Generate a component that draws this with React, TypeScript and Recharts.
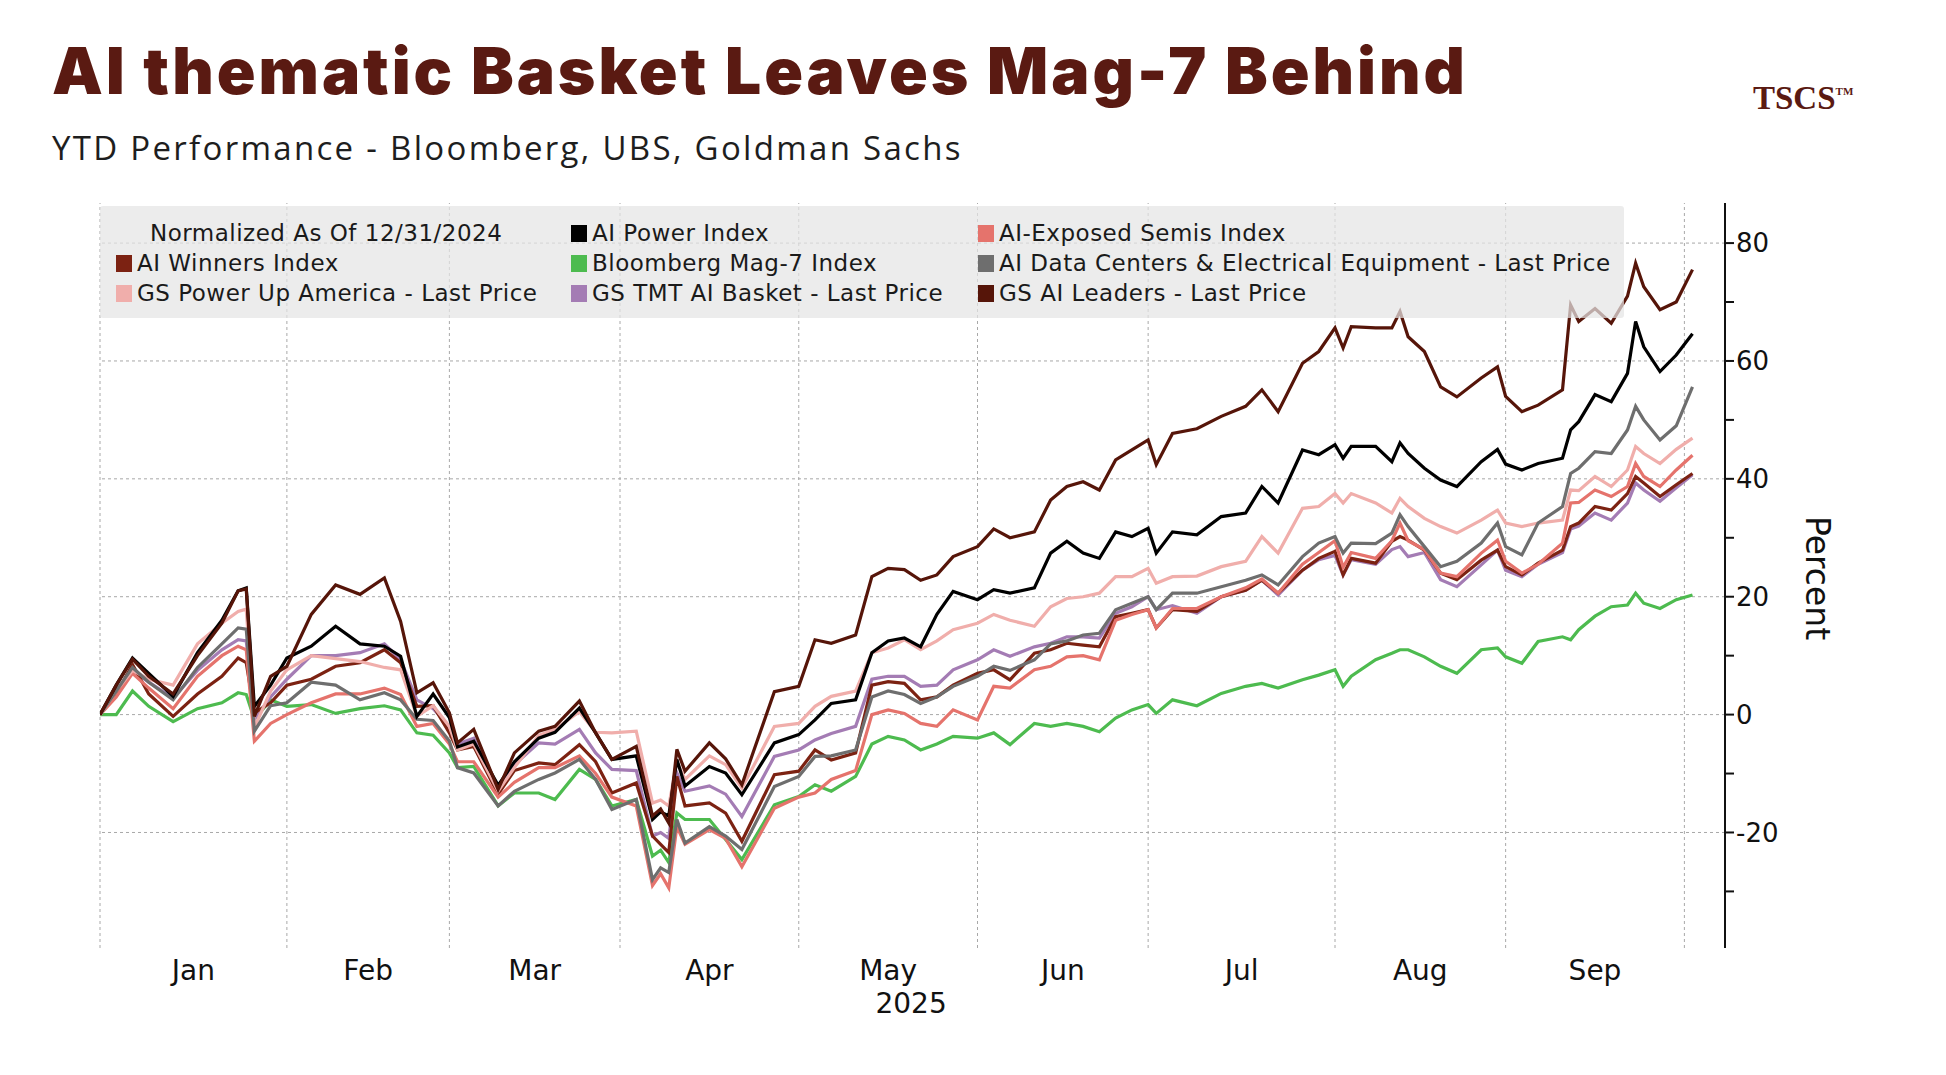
import React from 'react';
import { LineChart, Line, XAxis, YAxis, ReferenceLine } from 'recharts';

// weekday index since 12/31/2024 (Bloomberg weekday axis)
const DAYS = [0, 2, 4, 6, 9, 12, 15, 17, 18, 19, 21, 23,
  26, 29, 32, 35, 37, 39, 41, 43,
  44, 46, 49, 51, 54, 56, 59, 61, 63,
  66, 68, 69, 70, 71, 72, 75, 77, 79, 83,
  86, 88, 90, 93, 95, 97, 99, 101, 103, 105,
  108, 110, 112, 115, 117, 119, 121, 123, 125, 127,
  129, 130, 132, 135, 138, 141, 143, 145, 148, 150,
  152, 153, 154, 157, 159, 160, 161, 163, 165, 167, 170, 172,
  173, 175, 177, 180, 181, 182, 184, 186, 188, 189, 190, 192, 194, 196];

const aiPower = [0, 5, 9.6, 7, 3.1, 10.5, 16, 21, 21.5, 1.4, 5, 9.6,
  11.6, 15, 12, 11.6, 9.9, -0.3, 3.5, -0.5,
  -5.5, -4.5, -12, -8, -4, -3, 1.1, -3.1, -7.6,
  -7, -17.8, -16.5, -17.2, -7.6, -12.1, -8.8, -9.9, -13.6, -4.8,
  -3.4, -0.9, 1.9, 2.5, 10.5, 12.5, 13, 11.5, 17, 20.9,
  19.5, 21.2, 20.6, 21.5, 27.4, 29.4, 27.4, 26.5, 31, 30.2,
  31.6, 27.4, 31, 30.5, 33.6, 34.2, 38.7, 35.9, 44.9, 44.1,
  45.8, 43.5, 45.5, 45.5, 42.9, 46.1, 44.3, 41.8, 39.8, 38.7, 42.9, 45,
  42.5, 41.5, 42.6, 43.5, 48.3, 49.7, 54.3, 53.1, 57.9, 66.7, 62.4, 58.2, 61, 64.6];

const aiSemis = [0, 3, 7, 4.5, 1, 6.5, 10, 11.6, 11, -4.5, -1.5, 0,
  2, 3.5, 3.5, 4.5, 3.4, -2, -1.5, -5,
  -8, -8, -14, -11.5, -9, -9, -7, -10, -14,
  -15.5, -29, -27, -29.4, -19, -22, -19.5, -21, -25.8, -15.9,
  -14, -13.3, -11, -9.5, 0, 0.8, 0.2, -1.5, -2, 0.8,
  -0.9, 4.8, 4.5, 7.6, 8.2, 9.8, 10, 9.3, 16, 17,
  17.8, 14.7, 18, 18, 20, 21.5, 23, 20.6, 25.5, 27.5,
  29.5, 25, 27.5, 26.5, 29.5, 32.5, 29.5, 28, 24, 23.4, 27.4, 29.6,
  26, 24, 25.5, 29.1, 35.9, 36, 38.1, 37, 38.7, 42.6, 40.4, 38.7, 41.5, 44];

const aiWinners = [0, 3.5, 8.5, 3.5, -0.3, 3.5, 6.5, 9.6, 8.8, 0.3, 2, 5,
  6, 8.2, 8.8, 11, 8.8, 1.4, 1.5, -3.1,
  -6, -5.4, -13.5, -9.5, -8.2, -8.5, -5.1, -8, -13.3,
  -11.6, -20.6, -22, -23.4, -10.5, -15.5, -15, -16.7, -21.5, -10.2,
  -9.6, -6, -7.7, -6.5, 5, 5.6, 5.3, 2.5, 3, 5,
  7, 7.6, 5.9, 10.4, 11, 12.1, 11.8, 11.5, 16.6, 17.2,
  17.8, 14.7, 17.8, 17.5, 20, 21.1, 22.8, 20.6, 24.5, 26.5,
  27.7, 23.7, 26.5, 25.7, 29.4, 30.2, 29.6, 27.9, 24, 22.9, 26.2, 27.9,
  25.1, 23.7, 25.7, 27.9, 31.9, 32.5, 35.3, 34.7, 37.5, 40.4, 39.3, 37, 39, 40.9];

const mag7 = [0, 0, 4, 1.4, -1.2, 1, 2, 3.7, 3.4, -0.8, 2.5, 1.4,
  1.7, 0.2, 1, 1.5, 0.8, -3.1, -3.5, -6.5,
  -9, -8.8, -15.5, -13.3, -13.3, -14.4, -9.3, -11, -15.5,
  -14.4, -24, -23, -25.1, -16.7, -17.8, -17.8, -21.2, -24.6, -15.3,
  -13.9, -11.9, -13, -10.5, -5, -3.7, -4.3, -6, -5, -3.7,
  -4, -3.1, -5.1, -1.5, -2, -1.5, -2, -2.9, -0.6, 0.8,
  1.7, 0.2, 2.5, 1.5, 3.6, 4.8, 5.3, 4.5, 5.9, 6.7,
  7.6, 4.8, 6.5, 9.3, 10.4, 11, 11, 9.8, 8.2, 7, 11, 11.3,
  9.8, 8.7, 12.4, 13.2, 12.7, 14.4, 16.7, 18.3, 18.6, 20.6, 18.9, 18, 19.5, 20.3];

const aiDataCenters = [0, 4, 8, 5.5, 2.5, 8, 12, 14.7, 14.5, -2.8, 1.5, 2,
  5.5, 5, 2.5, 3.7, 2.5, -0.8, -1, -4.5,
  -9, -9.9, -15.5, -13, -11, -9.9, -7.6, -11, -16.1,
  -14.4, -28, -26, -26.8, -17.8, -21.8, -19, -20.6, -22.9, -12.2,
  -10.5, -7.1, -7, -6, 3, 4, 3.4, 1.9, 3, 4.8,
  6.5, 8.2, 7.5, 9.3, 12, 12.5, 13.5, 13.8, 17.8, 18.9,
  20, 17.8, 20.6, 20.6, 21.7, 22.8, 23.7, 22, 26.8, 29.1,
  30.2, 27.4, 29.1, 29, 30.8, 33.9, 31.9, 28.5, 25.1, 26, 29.1, 32.5,
  28.5, 27.1, 32.5, 35.3, 40.9, 41.8, 44.6, 44.3, 48.3, 52.3, 50, 46.6, 49, 55.6];

const gsPowerUp = [0, 4, 7.5, 6, 5, 12, 15.5, 17.5, 17.9, -2.2, 4, 7.6,
  10, 9.5, 9, 8, 7.6, -0.3, 1.5, -2,
  -6, -5, -13, -9, -3.5, -2.5, 0.5, -3, -3.1,
  -2.8, -15, -14.5, -15.5, -8, -11, -7, -8.5, -12.5, -2,
  -1.5, 1.4, 3.1, 4, 10.5, 11.3, 12.7, 11, 12.5, 14.4,
  15.5, 17, 16, 15, 18.3, 19.7, 20, 20.6, 23.4, 23.4,
  24.8, 22.3, 23.4, 23.5, 25.1, 26, 30.2, 27.4, 35, 35.3,
  37.5, 35.9, 37.5, 35.9, 34.2, 36.7, 35.3, 33.3, 31.9, 30.8, 33, 34.7,
  32.5, 31.9, 32.5, 33, 38.1, 38, 40.4, 38.7, 41.5, 45.5, 44.3, 42.6, 45, 46.9];

const gsTmtAi = [0, 3.5, 7.5, 5.5, 2.8, 7.5, 11, 12.7, 12.5, -0.8, 3, 6,
  10, 10, 10.5, 12, 9.3, 2.5, 1, -2,
  -5, -4, -13, -8.5, -4.8, -5, -2.5, -6.5, -9.3,
  -9.5, -20.6, -20, -21, -9.9, -13, -12.1, -13.5, -17.3, -7.1,
  -6, -4.3, -3.2, -2, 6, 6.5, 6.5, 4.8, 5, 7.6,
  9.3, 11, 9.9, 11.5, 12.1, 13.2, 13.2, 13, 17.2, 18.3,
  20, 17.8, 18.5, 17.2, 20, 21.1, 22.8, 20.3, 24.5, 26.3,
  27, 23.7, 26.3, 25.5, 28, 28.5, 26.8, 27.5, 22.9, 21.7, 25.4, 27.9,
  24.5, 23.4, 25.5, 27.5, 31.5, 32, 34.2, 33, 35.9, 39.3, 38.1, 36.2, 38.5, 40.7];

const gsAiLeaders = [0, 5, 9.4, 6.5, 3.5, 10, 15.5, 21, 21.3, -0.3, 6.5, 8.2,
  17, 22, 20.4, 23.2, 15.8, 3.7, 5.4, 0.3,
  -4.8, -2.5, -12.7, -6.5, -2.8, -2, 2.3, -3.1, -7.6,
  -5.4, -17.2, -16, -18.4, -5.9, -9.6, -4.8, -7.5, -11.9, 3.9,
  4.8, 12.7, 12.1, 13.5, 23.4, 24.8, 24.6, 22.8, 23.7, 26.8,
  28.5, 31.5, 30, 31, 36.4, 38.7, 39.5, 38.1, 43.2, 44.9,
  46.6, 42.4, 47.7, 48.5, 50.6, 52.3, 55.1, 51.4, 59.6, 61.6,
  65.6, 62.2, 65.8, 65.6, 65.6, 68.4, 64.1, 61.6, 55.6, 53.9, 57.1, 59,
  54, 51.4, 52.5, 55.1, 69.5, 66.7, 68.9, 66.4, 71, 76.6, 72.6, 68.7, 70, 75.5];

const MONTH_LABELS = ['Jan', 'Feb', 'Mar', 'Apr', 'May', 'Jun', 'Jul', 'Aug', 'Sep'];
const MONTH_MID = [11.5, 33, 53.5, 75, 97, 118.5, 140.5, 162.5, 184];
const MONTH_BOUNDS = [0, 23, 43, 64, 86, 108, 129, 152, 173, 195];
const Y_TICKS = [-30, -20, -10, 0, 10, 20, 30, 40, 50, 60, 70, 80];
const Y_LABELED = [-20, 0, 20, 40, 60, 80];

type S = { key: string; name: string; color: string; values: number[] };
const SERIES: Record<string, S> = {
  aiPower: { key: 'aiPower', name: 'AI Power Index', color: '#000000', values: aiPower },
  aiSemis: { key: 'aiSemis', name: 'AI-Exposed Semis Index', color: '#e5736c', values: aiSemis },
  aiWinners: { key: 'aiWinners', name: 'AI Winners Index', color: '#7c2212', values: aiWinners },
  mag7: { key: 'mag7', name: 'Bloomberg Mag-7 Index', color: '#4dbb4f', values: mag7 },
  aiDataCenters: { key: 'aiDataCenters', name: 'AI Data Centers & Electrical Equipment - Last Price', color: '#6e6e6e', values: aiDataCenters },
  gsPowerUp: { key: 'gsPowerUp', name: 'GS Power Up America - Last Price', color: '#f0aeab', values: gsPowerUp },
  gsTmtAi: { key: 'gsTmtAi', name: 'GS TMT AI Basket - Last Price', color: '#a47cb4', values: gsTmtAi },
  gsAiLeaders: { key: 'gsAiLeaders', name: 'GS AI Leaders - Last Price', color: '#561509', values: gsAiLeaders },
};
const LEGEND_ORDER: (string | null)[] = [null, 'aiPower', 'aiSemis', 'aiWinners', 'mag7', 'aiDataCenters', 'gsPowerUp', 'gsTmtAi', 'gsAiLeaders'];
const DRAW_ORDER = ['mag7', 'gsTmtAi', 'aiWinners', 'aiSemis', 'gsPowerUp', 'aiDataCenters', 'aiPower', 'gsAiLeaders'];

const FONT = '"DejaVu Sans", Verdana, sans-serif';
const LEGEND_COL_X = [16, 471, 878];

const MonthTick = (props: any) => {
  const { x, y, payload } = props;
  const i = MONTH_MID.indexOf(payload.value);
  const label = MONTH_LABELS[i];
  return (
    <g>
      <text x={x} y={y + 32} textAnchor="middle" fontSize={28} fontFamily={FONT} fill="#111">{label}</text>
      {label === 'May' && (
        <text x={x + 23} y={y + 65} textAnchor="middle" fontSize={28} fontFamily={FONT} fill="#111">2025</text>
      )}
    </g>
  );
};

const ValueTick = (props: any) => {
  const { x, y, payload } = props;
  if (!Y_LABELED.includes(payload.value)) return <g />;
  return (
    <text x={x} y={y} dy="0.36em" textAnchor="start" fontSize={26} fontFamily={FONT} fill="#111">{payload.value}</text>
  );
};

export default function App() {
  const data = DAYS.map((d, i) => {
    const row: any = { d };
    Object.values(SERIES).forEach((s) => { row[s.key] = s.values[i]; });
    return row;
  });
  const legendText: React.CSSProperties = { fontFamily: FONT, fontSize: 23, letterSpacing: 0.5, color: '#1a1a1a', whiteSpace: 'nowrap' };
  return (
    <div style={{ position: 'absolute', left: 0, top: 0, width: 1946, height: 1075, background: '#ffffff', overflow: 'hidden' }}>
      <div style={{ position: 'absolute', left: 52, top: 39, fontFamily: 'Inter, "Noto Sans", sans-serif', fontWeight: 900, fontSize: 64, lineHeight: 1, color: '#5a1a12', whiteSpace: 'nowrap', letterSpacing: 3 }}>
        AI thematic Basket Leaves Mag-7 Behind
      </div>
      <div style={{ position: 'absolute', left: 52, top: 131, fontFamily: '"Open Sans", sans-serif', fontSize: 33, lineHeight: 1, color: '#1e1e1e', whiteSpace: 'nowrap', letterSpacing: 2.3 }}>
        YTD Performance - Bloomberg, UBS, Goldman Sachs
      </div>
      <div style={{ position: 'absolute', left: 1753, top: 82, fontFamily: '"Liberation Serif", serif', fontWeight: 700, fontSize: 33, lineHeight: 1, color: '#5a1a12', whiteSpace: 'nowrap' }}>
        TSCS<span style={{ fontSize: 11, verticalAlign: 'top', position: 'relative', top: 4 }}>TM</span>
      </div>

      <div style={{ position: 'absolute', left: 0, top: 0 }}>
        <LineChart width={1946} height={1075} data={data} margin={{ top: 203, right: 121, bottom: 67, left: 100 }}>
          <XAxis dataKey="d" type="number" domain={[0, 200]} ticks={MONTH_MID} interval={0} tick={<MonthTick />} tickLine={false} axisLine={false} tickSize={0} tickMargin={0} height={60} allowDataOverflow />
          <YAxis orientation="right" type="number" domain={[-39.6, 86.8]} ticks={Y_TICKS} interval={0} tick={<ValueTick />} tickLine={{ stroke: '#111', strokeWidth: 2 }} tickSize={9} axisLine={{ stroke: '#111', strokeWidth: 2 }} width={100} allowDataOverflow />
          {Y_LABELED.map((v) => (
            <ReferenceLine key={'h' + v} y={v} stroke="#a8a8a8" strokeDasharray="3 3" strokeWidth={1} />
          ))}
          {MONTH_BOUNDS.map((b) => (
            <ReferenceLine key={'v' + b} x={b} stroke="#a8a8a8" strokeDasharray="3 3" strokeWidth={1} />
          ))}
          {DRAW_ORDER.map((k) => (
            <Line key={k} type="linear" dataKey={k} name={SERIES[k].name} stroke={SERIES[k].color} strokeWidth={3.2} dot={false} isAnimationActive={false} />
          ))}
        </LineChart>
      </div>

      <div style={{ position: 'absolute', left: 100, top: 206, width: 1524, height: 112, background: 'rgba(228,228,228,0.72)', borderRadius: 3 }}>
        {LEGEND_ORDER.map((k, idx) => {
          const row = Math.floor(idx / 3);
          const col = idx % 3;
          const top = 12 + row * 30;
          if (k === null) {
            return (
              <div key="hdr" style={{ position: 'absolute', left: 50, top, height: 30, display: 'flex', alignItems: 'center', ...legendText }}>
                Normalized As Of 12/31/2024
              </div>
            );
          }
          const s = SERIES[k];
          return (
            <div key={k} style={{ position: 'absolute', left: LEGEND_COL_X[col], top, height: 30, display: 'flex', alignItems: 'center', ...legendText }}>
              <span style={{ display: 'inline-block', width: 16, height: 17, background: s.color, marginRight: 5 }} />
              {s.name}
            </div>
          );
        })}
      </div>

      <div style={{ position: 'absolute', left: 1817, top: 578, transform: 'translate(-50%, -50%) rotate(90deg)', fontFamily: FONT, fontSize: 33, lineHeight: 1, color: '#111', whiteSpace: 'nowrap' }}>
        Percent
      </div>
    </div>
  );
}
